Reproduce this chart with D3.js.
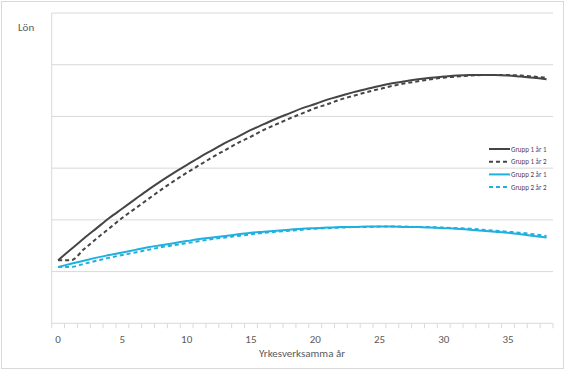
<!DOCTYPE html>
<html>
<head>
<meta charset="utf-8">
<script src="https://cdn.jsdelivr.net/npm/d3@7"></script>
<style>
  body { margin: 0; background: #fff; }
  text { font-family: Calibri, Carlito, "Open Sans", sans-serif; }
</style>
</head>
<body>
<div id="chart"></div>
<script>
// Years of experience (category axis)
const years = d3.range(0, 39);

// Salary curves (no y-axis labels in the original)
const grupp1Ar1 = [1.22, 1.43, 1.64, 1.84, 2.04, 2.22, 2.40, 2.58, 2.75, 2.91,
  3.06, 3.21, 3.35, 3.49, 3.61, 3.74, 3.85, 3.96, 4.06, 4.16,
  4.24, 4.33, 4.40, 4.47, 4.53, 4.59, 4.64, 4.68, 4.72, 4.75,
  4.77, 4.79, 4.80, 4.80, 4.80, 4.79, 4.77, 4.75, 4.72];
const grupp1Ar2 = [1.22, 1.22, 1.43, 1.64, 1.84, 2.04, 2.22, 2.40, 2.58, 2.75,
  2.91, 3.06, 3.21, 3.35, 3.49, 3.61, 3.74, 3.85, 3.96, 4.06,
  4.16, 4.24, 4.33, 4.40, 4.47, 4.53, 4.59, 4.64, 4.68, 4.72,
  4.75, 4.77, 4.79, 4.80, 4.80, 4.80, 4.79, 4.77, 4.75];
const grupp2Ar1 = [1.09, 1.15, 1.21, 1.27, 1.32, 1.37, 1.42, 1.47, 1.51, 1.55,
  1.59, 1.63, 1.66, 1.69, 1.72, 1.75, 1.77, 1.79, 1.81, 1.83,
  1.84, 1.85, 1.86, 1.86, 1.87, 1.87, 1.87, 1.86, 1.86, 1.85,
  1.84, 1.83, 1.81, 1.79, 1.77, 1.75, 1.72, 1.69, 1.66];
const grupp2Ar2 = [1.09, 1.09, 1.15, 1.21, 1.27, 1.32, 1.37, 1.42, 1.47, 1.51,
  1.55, 1.59, 1.63, 1.66, 1.69, 1.72, 1.75, 1.77, 1.79, 1.81,
  1.83, 1.84, 1.85, 1.86, 1.86, 1.87, 1.87, 1.87, 1.86, 1.86,
  1.85, 1.84, 1.83, 1.81, 1.79, 1.77, 1.75, 1.72, 1.69];

const xTickLabels = [0, 5, 10, 15, 20, 25, 30, 35];
const yGrid = [1, 2, 3, 4, 5, 6];

const series = [
  { name: 'Grupp 1 år 1', values: grupp1Ar1, color: '#454545', dash: null },
  { name: 'Grupp 1 år 2', values: grupp1Ar2, color: '#454545', dash: '4,3' },
  { name: 'Grupp 2 år 1', values: grupp2Ar1, color: '#20b0e0', dash: null },
  { name: 'Grupp 2 år 2', values: grupp2Ar2, color: '#20b0e0', dash: '4,3' }
];

const width = 565;
const height = 370;
const margin = { top: 13, right: 12, bottom: 46.7, left: 51.7 };
const gridColor = '#d9d9d9';
const textColor = '#595959';

const svg = d3.select('#chart')
  .append('svg')
  .attr('width', width)
  .attr('height', height);

// Outer chart border.
svg.append('rect')
  .attr('x', 1.5).attr('y', 1.5)
  .attr('width', width - 3).attr('height', height - 3)
  .attr('fill', 'none')
  .attr('stroke', gridColor);

const x = d3.scaleBand()
  .domain(years)
  .range([margin.left, width - margin.right]);

const y = d3.scaleLinear()
  .domain([0, 6])
  .range([height - margin.bottom, margin.top]);

// Horizontal gridlines.
svg.append('g')
  .selectAll('line')
  .data(yGrid)
  .join('line')
  .attr('x1', margin.left)
  .attr('x2', width - margin.right)
  .attr('y1', d => y(d))
  .attr('y2', d => y(d))
  .attr('stroke', gridColor)
  .attr('stroke-width', 1);

// Vertical axis line (no labels).
svg.append('line')
  .attr('x1', margin.left).attr('x2', margin.left)
  .attr('y1', y(6)).attr('y2', y(0))
  .attr('stroke', gridColor);

// X axis: ticks between categories, labels every fifth year.
const xAxis = svg.append('g')
  .attr('transform', `translate(0,${y(0)})`);

xAxis.append('line')
  .attr('x1', margin.left).attr('x2', width - margin.right)
  .attr('stroke', gridColor);

xAxis.selectAll('line.tick')
  .data(d3.range(0, 40))
  .join('line')
  .attr('class', 'tick')
  .attr('x1', d => margin.left + d * x.step())
  .attr('x2', d => margin.left + d * x.step())
  .attr('y1', 0)
  .attr('y2', 5)
  .attr('stroke', gridColor);

xAxis.selectAll('text')
  .data(xTickLabels)
  .join('text')
  .attr('x', d => x(d) + x.bandwidth() / 2)
  .attr('y', 20)
  .attr('text-anchor', 'middle')
  .attr('fill', textColor)
  .style('font-size', '11px')
  .text(d => d);

svg.append('text')
  .attr('x', 302)
  .attr('y', 357)
  .attr('text-anchor', 'middle')
  .attr('fill', textColor)
  .style('font-size', '11px')
  .text('Yrkesverksamma år');

svg.append('text')
  .attr('x', 18)
  .attr('y', 31)
  .attr('fill', textColor)
  .style('font-size', '11px')
  .text('Lön');

// Lines.
const line = d3.line()
  .x((d, i) => x(years[i]) + x.bandwidth() / 2)
  .y(d => y(d))
  .curve(d3.curveMonotoneX);

svg.append('g')
  .selectAll('path')
  .data(series)
  .join('path')
  .attr('d', d => line(d.values))
  .attr('fill', 'none')
  .attr('stroke', d => d.color)
  .attr('stroke-width', 2)
  .attr('stroke-dasharray', d => d.dash);

// Legend.
const legend = svg.append('g')
  .selectAll('g')
  .data(series)
  .join('g')
  .attr('transform', (d, i) => `translate(489,${149 + i * 12.7})`);

legend.append('line')
  .attr('x1', 0).attr('x2', 21)
  .attr('stroke', d => d.color)
  .attr('stroke-width', 2)
  .attr('stroke-dasharray', d => d.dash);

legend.append('text')
  .attr('x', 22)
  .attr('y', 2.5)
  .attr('fill', '#5a3a50')
  .style('font-size', '7px')
  .text(d => d.name);
</script>
</body>
</html>
